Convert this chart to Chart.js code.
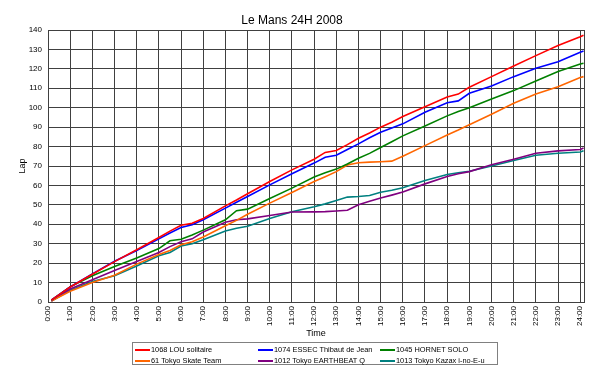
<!DOCTYPE html>
<html>
<head>
<meta charset="utf-8">
<script src="https://cdn.jsdelivr.net/npm/chart.js@4"></script>
<style>
  html, body { margin: 0; padding: 0; background: #fff; }
  #wrap { position: relative; width: 600px; height: 372px; }
  #legend {
    position: absolute; left: 132px; top: 342px; width: 366px; height: 23px;
    border: 1px solid #808080; background: #fff; box-sizing: border-box;
    font: 7.4px "Liberation Sans", Arial, sans-serif; color: #000;
  }
  .item { position: absolute; height: 10px; line-height: 10px; white-space: nowrap; }
  .item i { display: inline-block; width: 15px; height: 2px; vertical-align: middle; margin-right: 1px; }
</style>
</head>
<body>
<div id="wrap">
  <canvas id="c" width="600" height="372"></canvas>
  <div id="legend"></div>
</div>
<script>
// hours since start (0:00 = race start)
const TIMES = [0.15, 1, 2, 3, 4, 5, 5.5, 6, 6.5, 7, 8, 8.5, 9, 10, 11, 12, 12.5, 13, 13.5, 14, 14.5, 15, 15.5, 16, 17, 18, 18.5, 19, 20, 21, 22, 23, 24, 24.15];

const LOU     = [1, 7.7, 14.3, 20.8, 26.9, 33.2, 36.5, 39.5, 40.5, 43, 49.5, 52.5, 55.7, 62, 68, 73.5, 77, 78, 81, 84.3, 87, 90, 92.5, 95.5, 100.5, 105.5, 107, 110.5, 116, 121.5, 126.8, 132, 136.5, 137.3];
const ESSEC   = [1, 7.7, 14.5, 21, 26.5, 32.5, 35.5, 38.3, 39.8, 42.3, 48.3, 51.3, 54.3, 60.3, 66, 71.5, 74.5, 75.5, 78.5, 81.4, 84.5, 87.4, 89.5, 91.7, 97.7, 102.6, 103.5, 107.4, 111.2, 116, 120.3, 123.7, 128.5, 129.2];
const HORNET  = [1, 7.8, 13.5, 18.3, 22.6, 27.5, 31.5, 32.3, 34.5, 37, 42.3, 47, 47.8, 53.3, 58.6, 64.3, 66.5, 68.4, 71, 74, 76.5, 79.5, 82.5, 85.5, 90.6, 95.8, 98, 100, 104.5, 108.8, 113.8, 118.6, 122.5, 122.9];
const SKATE   = [0.5, 5.5, 10, 13.8, 19.5, 24.5, 26.5, 29.5, 31, 33.5, 39.2, 42, 45.2, 50.9, 56.4, 62, 64.5, 67.1, 70.5, 71.7, 72, 72.2, 72.5, 75, 80.5, 86, 88.5, 91.2, 96.6, 102.3, 107, 110.8, 115.5, 116];
const EARTH   = [0.5, 6.7, 11.5, 16.2, 20.9, 25.5, 28.5, 31, 32.5, 36, 41, 42.3, 42.8, 44.5, 46.3, 46.4, 46.5, 46.8, 47.2, 50, 51.8, 53.5, 55, 56.6, 60.8, 64.6, 66, 67.1, 70.6, 73.5, 76.6, 77.8, 78.5, 79.3];
const KAZAX   = [0.5, 6, 10.5, 13.5, 18.5, 23.8, 25.5, 28.8, 30, 32, 36.5, 38, 39, 43, 46.5, 49, 50.5, 52.2, 54, 54.3, 54.8, 56.5, 57.5, 58.8, 62.5, 65.6, 66.5, 67.3, 70, 72.8, 75.5, 76.6, 77.2, 77.9];

const SERIES = [
  { label: '1068 LOU solitaire',          data: LOU,    color: '#ff0000' },
  { label: '1074 ESSEC Thibaut de Jean',  data: ESSEC,  color: '#0000ff' },
  { label: '1045 HORNET SOLO',            data: HORNET, color: '#008000' },
  { label: '61 Tokyo Skate Team',         data: SKATE,  color: '#ff6600' },
  { label: '1012 Tokyo EARTHBEAT Q',      data: EARTH,  color: '#800080' },
  { label: '1013 Tokyo Kazax i-no-E-u',   data: KAZAX,  color: '#008080' },
];

const FONT = '"Liberation Sans", Arial, sans-serif';
const GRID = '#404040';

// plot frame (top + right edges aren't drawn by the axes)
const frame = {
  id: 'frame',
  afterDraw(chart) {
    const { ctx, chartArea: a } = chart;
    ctx.save();
    ctx.strokeStyle = GRID;
    ctx.lineWidth = 1;
    ctx.strokeRect(Math.round(a.left) + 0.5, Math.round(a.top) + 0.5,
      Math.round(a.right - a.left), Math.round(a.bottom - a.top));
    ctx.restore();
  },
};

new Chart(document.getElementById('c'), {
  type: 'line',
  data: {
    datasets: SERIES.map((s) => ({
      label: s.label,
      data: TIMES.map((t, i) => ({ x: t, y: s.data[i] })),
      borderColor: s.color,
      backgroundColor: s.color,
      borderWidth: 1.6,
      pointRadius: 0,
      tension: 0,
    })),
  },
  options: {
    responsive: false,
    animation: false,
    layout: { padding: { left: 0, right: 16, top: 0, bottom: 32 } },
    plugins: {
      legend: { display: false },
      tooltip: { enabled: false },
      title: {
        display: true,
        text: 'Le Mans 24H 2008',
        color: '#000',
        font: { family: FONT, size: 12, weight: 'normal' },
        padding: { top: 13, bottom: 2.6 },
      },
    },
    scales: {
      x: {
        type: 'linear',
        min: 0,
        max: 24.17,
        afterFit: (s) => { s.height = 38; },
        border: { color: GRID },
        grid: { color: GRID, drawTicks: false },
        ticks: {
          stepSize: 1,
          includeBounds: false,
          minRotation: 90,
          maxRotation: 90,
          padding: 4,
          color: '#000',
          font: { family: FONT, size: 8 },
          callback: (v) => (Number.isInteger(v) ? v + ':00' : ''),
        },
        title: {
          display: true, text: 'Time', color: '#000',
          font: { family: FONT, size: 9 }, padding: { top: 0, bottom: 1 },
        },
      },
      y: {
        min: 0,
        max: 140,
        afterFit: (s) => { s.width = 48; },
        border: { color: GRID },
        grid: { color: GRID, drawTicks: false },
        ticks: {
          stepSize: 10, padding: 6, color: '#000',
          font: { family: FONT, size: 8 },
        },
        title: {
          display: true, text: 'Lap', color: '#000',
          font: { family: FONT, size: 9 }, padding: { top: 17, bottom: 0 },
        },
      },
    },
  },
  plugins: [frame],
});

// legend laid out like the original 3x2 box
const COLS = [2, 125, 247];
const legend = document.getElementById('legend');
SERIES.forEach((s, i) => {
  const el = document.createElement('div');
  el.className = 'item';
  el.style.left = COLS[i % 3] + 'px';
  el.style.top = (i < 3 ? 1.5 : 12.5) + 'px';
  el.innerHTML = '<i style="background:' + s.color + '"></i>' + s.label;
  legend.appendChild(el);
});
</script>
</body>
</html>
